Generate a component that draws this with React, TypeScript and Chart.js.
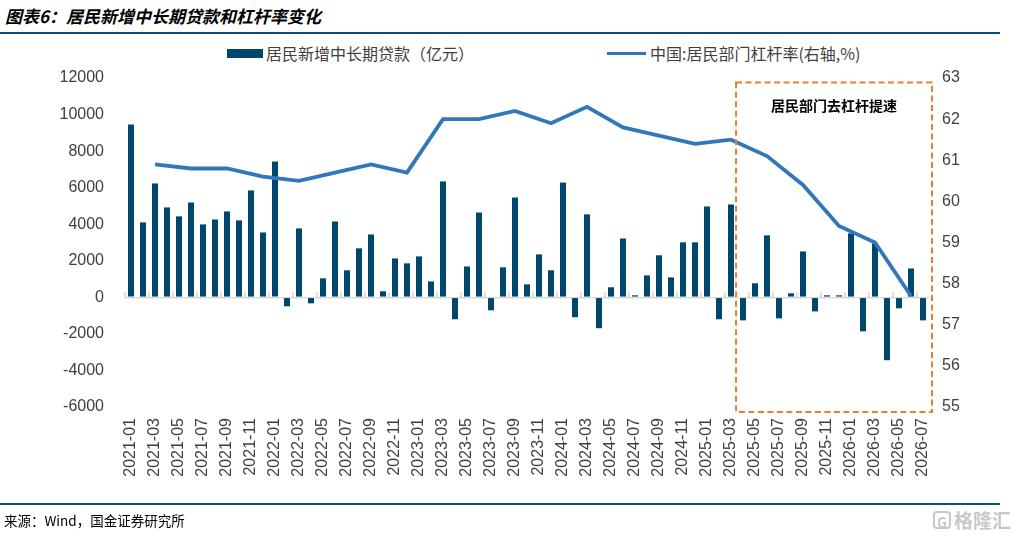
import { useEffect, useRef } from "react";
import { Chart, registerables } from "chart.js";

Chart.register(...registerables);

const months = [
  "2021-01", "2021-02", "2021-03", "2021-04", "2021-05", "2021-06", "2021-07", "2021-08", "2021-09", "2021-10", "2021-11", "2021-12",
  "2022-01", "2022-02", "2022-03", "2022-04", "2022-05", "2022-06", "2022-07", "2022-08", "2022-09", "2022-10", "2022-11", "2022-12",
  "2023-01", "2023-02", "2023-03", "2023-04", "2023-05", "2023-06", "2023-07", "2023-08", "2023-09", "2023-10", "2023-11", "2023-12",
  "2024-01", "2024-02", "2024-03", "2024-04", "2024-05", "2024-06", "2024-07", "2024-08", "2024-09", "2024-10", "2024-11", "2024-12",
  "2025-01", "2025-02", "2025-03", "2025-04", "2025-05", "2025-06", "2025-07", "2025-08", "2025-09", "2025-10", "2025-11", "2025-12",
  "2026-01", "2026-02", "2026-03", "2026-04", "2026-05", "2026-06", "2026-07",
];

// 居民新增中长期贷款（亿元）
const loans2021 = [9450, 4100, 6230, 4920, 4430, 5190, 3990, 4260, 4700, 4210, 5850, 3550];
const loans2022 = [7430, -490, 3770, -330, 1040, 4150, 1480, 2680, 3440, 330, 2130, 1860];
const loans2023 = [2240, 870, 6340, -1200, 1690, 4640, -710, 1640, 5460, 710, 2350, 1480];
const loans2024 = [6280, -1090, 4540, -1690, 550, 3220, 110, 1200, 2300, 1090, 3010, 3010];
const loans2025 = [4970, -1200, 5080, -1260, 770, 3390, -1150, 220, 2510, -770, 110, 110];
const loans2026 = [3500, -1860, 2950, -3440, -600, 1580, -1260];
const loans = [...loans2021, ...loans2022, ...loans2023, ...loans2024, ...loans2025, ...loans2026];

// 中国:居民部门杠杆率(右轴,%) — quarterly values
const lev2021 = [null, null, 60.9, null, null, 60.8, null, null, 60.8, null, null, 60.6];
const lev2022 = [null, null, 60.5, null, null, 60.7, null, null, 60.9, null, null, 60.7];
const lev2023 = [null, null, 62.0, null, null, 62.0, null, null, 62.2, null, null, 61.9];
const lev2024 = [null, null, 62.3, null, null, 61.8, null, null, 61.6, null, null, 61.4];
const lev2025 = [null, null, 61.5, null, null, 61.1, null, null, 60.4, null, null, 59.4];
const lev2026 = [null, null, 59.0, null, null, 57.7, null];
const leverage = [...lev2021, ...lev2022, ...lev2023, ...lev2024, ...lev2025, ...lev2026];

const barName = "居民新增中长期贷款（亿元）";
const lineName = "中国:居民部门杠杆率(右轴,%)";
const boxLabel = "居民部门去杠杆提速";

const BAR_COLOR = "#00476e";
const LINE_COLOR = "#3277bc";
const TEXT_COLOR = "#404040";
const TICK_FONT = { family: "'Liberation Sans', Arial, sans-serif", size: 16 };

const decorPlugin = {
  id: "decor",
  afterDatasetsDraw(chart: any) {
    const ctx = chart.ctx;
    const x = chart.scales.x;
    const y = chart.scales.y;
    const y0 = y.getPixelForValue(0);
    ctx.save();
    ctx.strokeStyle = "#d0d0d0";
    ctx.lineWidth = 1.5;
    for (let i = 0; i <= months.length; i += 2) {
      const px = x.getPixelForValue(i - 0.5);
      ctx.beginPath();
      ctx.moveTo(px, y0 - 5);
      ctx.lineTo(px, y0);
      ctx.stroke();
    }
    ctx.restore();
  },
  afterDraw(chart: any) {
    const ctx = chart.ctx;
    const x = chart.scales.x;
    const y1 = chart.scales.y1;
    const left = x.getPixelForValue(50.42);
    const right = x.getPixelForValue(66.75);
    const top = y1.getPixelForValue(62.89);
    const bottom = y1.getPixelForValue(54.88);
    ctx.save();
    ctx.strokeStyle = "#ed7d31";
    ctx.lineWidth = 2;
    ctx.setLineDash([6, 3.5]);
    ctx.strokeRect(left, top, right - left, bottom - top);
    ctx.setLineDash([]);
    ctx.fillStyle = "#000";
    ctx.font = "bold 14px 'Noto Sans CJK SC', sans-serif";
    ctx.textAlign = "center";
    ctx.textBaseline = "middle";
    ctx.fillText(boxLabel, (left + right) / 2, top + 23);
    ctx.restore();
  },
};

export default function App() {
  const canvasRef = useRef<HTMLCanvasElement | null>(null);

  useEffect(() => {
    document.body.style.margin = "0";
    document.body.style.background = "#fff";
    const canvas = canvasRef.current;
    if (!canvas) return;
    const chart = new Chart(canvas, {
      data: {
        labels: months,
        datasets: [
          {
            type: "line",
            label: lineName,
            data: leverage as any,
            yAxisID: "y1",
            borderColor: LINE_COLOR,
            backgroundColor: LINE_COLOR,
            borderWidth: 3.8,
            pointRadius: 0,
            spanGaps: true,
            tension: 0,
            order: 0,
          },
          {
            type: "bar",
            label: barName,
            data: loans,
            yAxisID: "y",
            backgroundColor: BAR_COLOR,
            barPercentage: 0.5,
            categoryPercentage: 1,
            order: 1,
          },
        ],
      } as any,
      options: {
        animation: false,
        responsive: true,
        maintainAspectRatio: false,
        layout: { padding: { top: 78, left: 0, right: 0, bottom: 30 } },
        plugins: {
          legend: { display: false },
          tooltip: { enabled: false },
        },
        scales: {
          x: {
            offset: true,
            grid: { display: false, drawTicks: false },
            border: { display: false },
            ticks: {
              autoSkip: false,
              minRotation: 90,
              maxRotation: 90,
              padding: 11,
              color: TEXT_COLOR,
              font: TICK_FONT,
              callback: (_v: any, i: number) => (i % 2 === 0 ? months[i] : null),
            },
            afterFit: (s: any) => {
              s.height = 100;
            },
          },
          y: {
            position: "left",
            min: -6000,
            max: 12000,
            ticks: {
              stepSize: 2000,
              padding: 21,
              color: TEXT_COLOR,
              font: TICK_FONT,
              callback: (v: any) => String(v),
            },
            grid: {
              drawTicks: false,
              lineWidth: 1.5,
              color: (c: any) => (c.tick && c.tick.value === 0 ? "#d9d9d9" : "rgba(0,0,0,0)"),
            },
            border: { display: false },
            afterFit: (s: any) => {
              s.width = 125;
            },
          },
          y1: {
            position: "right",
            min: 55,
            max: 63,
            ticks: { stepSize: 1, padding: 13, color: TEXT_COLOR, font: TICK_FONT, callback: (v: any) => String(v) },
            grid: { drawOnChartArea: false, drawTicks: false },
            border: { display: false },
            afterFit: (s: any) => {
              s.width = 88;
            },
          },
        },
      } as any,
      plugins: [decorPlugin],
    });
    return () => chart.destroy();
  }, []);

  const cjk = "'Noto Sans CJK SC', 'Liberation Sans', sans-serif";

  return (
    <div style={{ position: "relative", width: 1017, height: 537, overflow: "hidden", background: "#fff", fontFamily: cjk }}>
      <div
        style={{
          position: "absolute",
          left: 5,
          top: 3,
          fontSize: 17,
          fontWeight: 700,
          fontStyle: "italic",
          color: "#000",
          lineHeight: "26px",
          whiteSpace: "nowrap",
        }}
      >
        图表6：居民新增中长期贷款和杠杆率变化
      </div>
      <div style={{ position: "absolute", left: 0, top: 32, width: 1000, height: 1.5, background: "#0e4f7a" }} />

      {/* legend */}
      <div style={{ position: "absolute", left: 227, top: 48.5, width: 36, height: 9, background: BAR_COLOR }} />
      <div style={{ position: "absolute", left: 266, top: 42, fontSize: 16, lineHeight: "22px", color: TEXT_COLOR, whiteSpace: "nowrap" }}>
        {barName}
      </div>
      <div style={{ position: "absolute", left: 607, top: 51.5, width: 39, height: 3.5, background: LINE_COLOR }} />
      <div style={{ position: "absolute", left: 650, top: 42, fontSize: 16, lineHeight: "22px", color: TEXT_COLOR, whiteSpace: "nowrap" }}>
        {lineName}
      </div>

      <div style={{ position: "absolute", left: 0, top: 0, width: 1017, height: 537 }}>
        <canvas ref={canvasRef} />
      </div>

      <div style={{ position: "absolute", left: 0, top: 503, width: 1000, height: 1.5, background: "#0e4f7a" }} />
      <div style={{ position: "absolute", left: 4, top: 511, fontSize: 13.5, lineHeight: "18px", color: "#000", whiteSpace: "nowrap" }}>
        来源：Wind，国金证券研究所
      </div>
      <div
        style={{
          position: "absolute",
          right: 6,
          top: 508,
          fontSize: 19,
          lineHeight: "24px",
          color: "#c8c8c8",
          fontWeight: 700,
          whiteSpace: "nowrap",
          display: "flex",
          alignItems: "center",
          gap: 3,
        }}
      >
        <span
          style={{
            display: "inline-block",
            width: 18,
            height: 18,
            border: "2px solid #c8c8c8",
            borderRadius: 4,
            fontSize: 14,
            lineHeight: "18px",
            textAlign: "center",
            boxSizing: "border-box",
          }}
        >
          G
        </span>
        格隆汇
      </div>
    </div>
  );
}
